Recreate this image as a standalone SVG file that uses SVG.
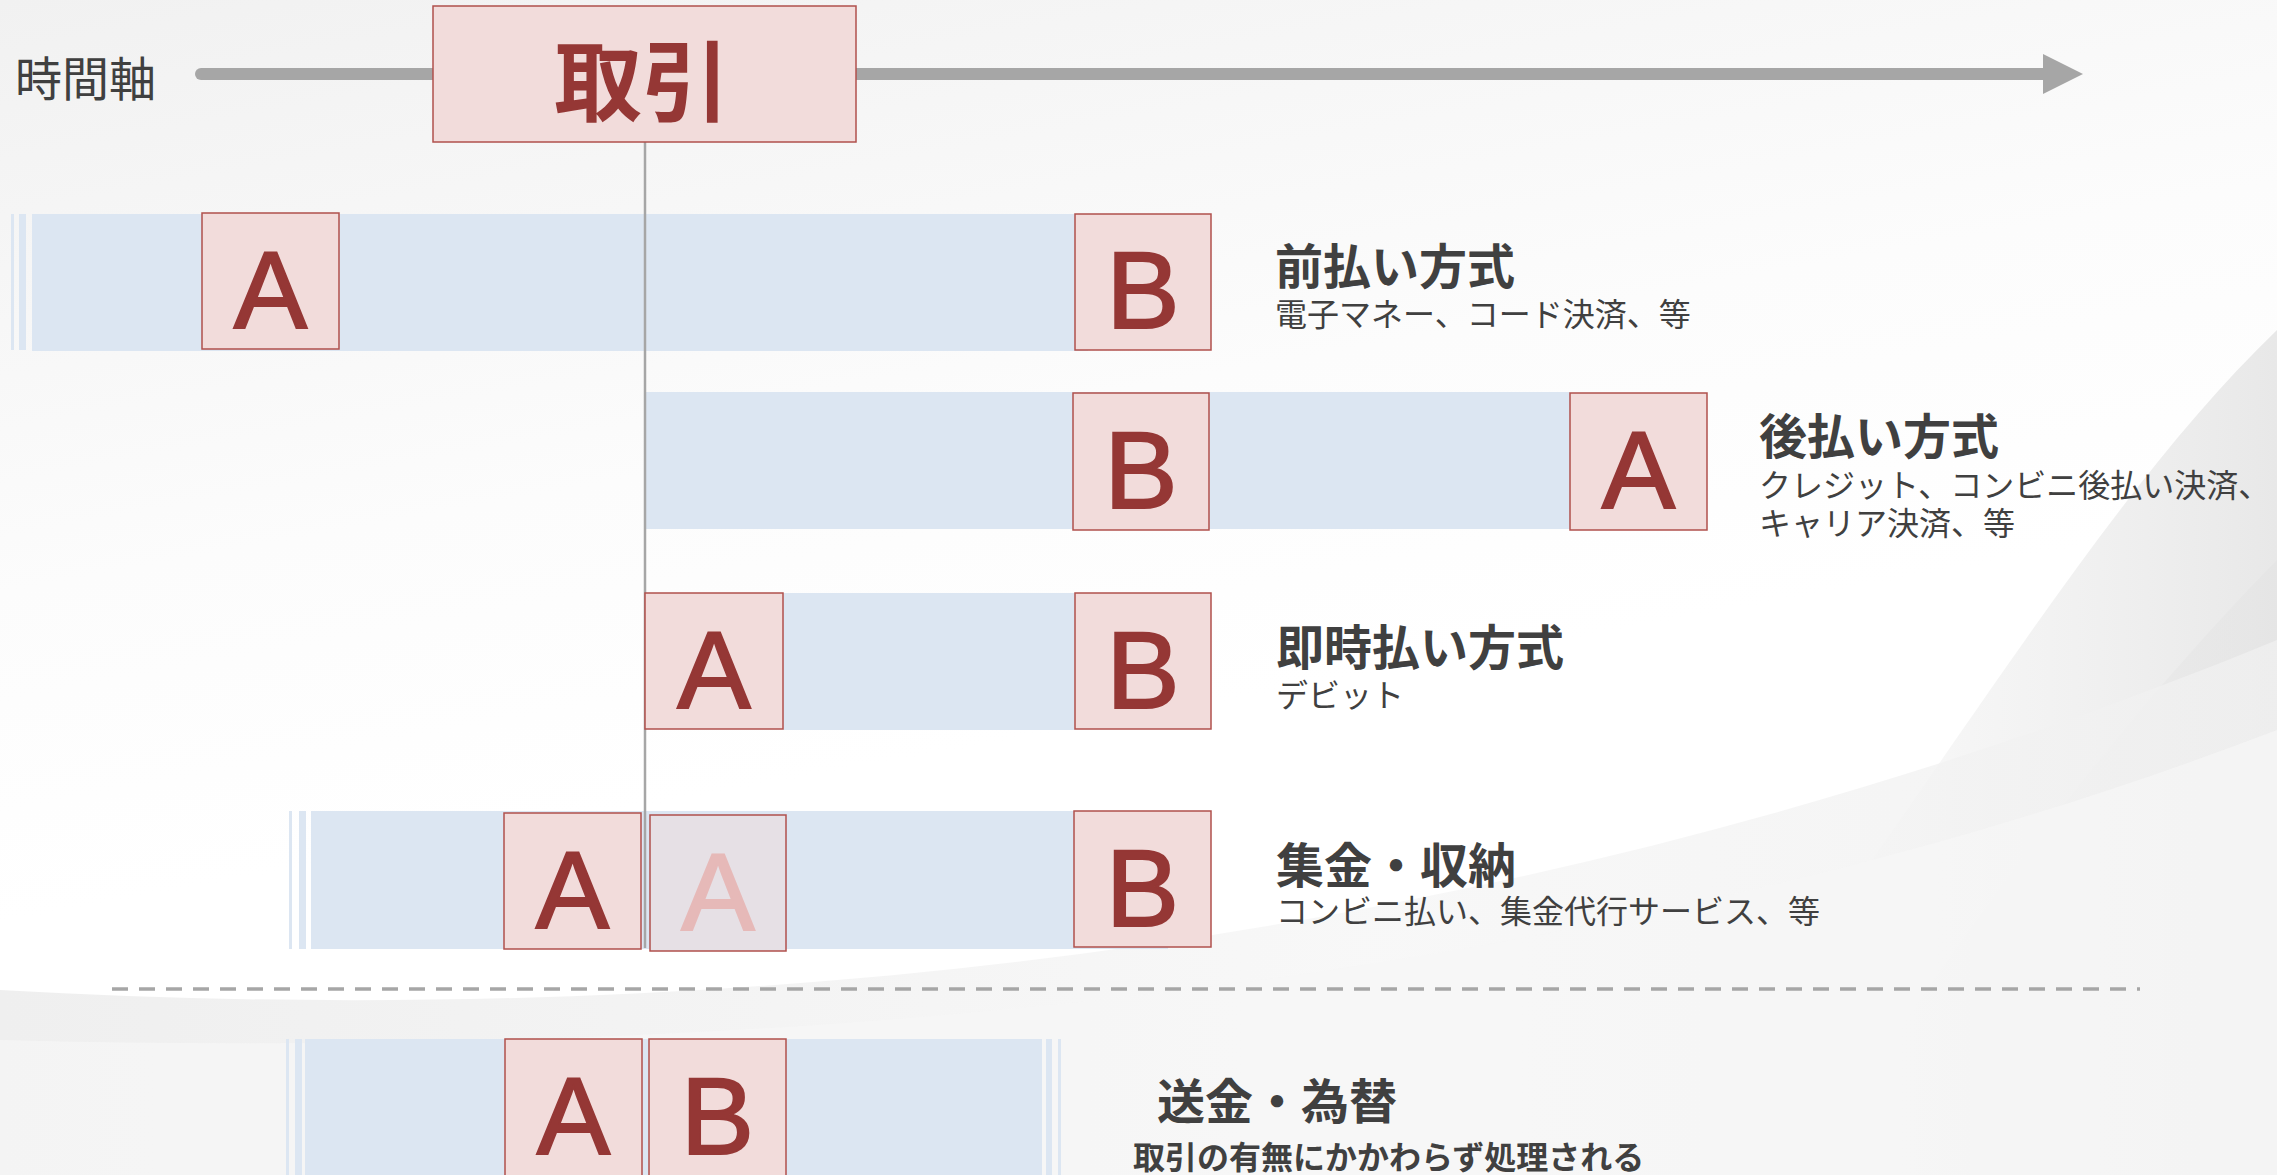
<svg xmlns="http://www.w3.org/2000/svg" width="2277" height="1175" viewBox="0 0 2277 1175">
<defs>
<linearGradient id="bg" x1="0" y1="0" x2="0.35" y2="1">
<stop offset="0" stop-color="#f1f1f1"/>
<stop offset="0.45" stop-color="#fcfcfc"/>
<stop offset="0.7" stop-color="#ffffff"/>
<stop offset="1" stop-color="#ffffff"/>
</linearGradient>
<linearGradient id="rsw" x1="0" y1="0" x2="1" y2="0">
<stop offset="0" stop-color="#ffffff" stop-opacity="0"/>
<stop offset="0.5" stop-color="#f3f3f3" stop-opacity="0.8"/>
<stop offset="1" stop-color="#e8e8e8" stop-opacity="1"/>
</linearGradient>
<linearGradient id="rsw2" x1="0" y1="0" x2="1" y2="0">
<stop offset="0" stop-color="#ececec" stop-opacity="0"/>
<stop offset="1" stop-color="#e4e4e4" stop-opacity="0.7"/>
</linearGradient>
<linearGradient id="bsw" x1="0" y1="0" x2="1" y2="0">
<stop offset="0" stop-color="#ebebeb"/>
<stop offset="0.6" stop-color="#f6f6f6"/>
<stop offset="1" stop-color="#f0f0f0"/>
</linearGradient>
<style>
.band{fill:#dce6f2}
.stripe{fill:#dce6f2}
.box{fill:#f2dcdb;stroke:#b0504c;stroke-width:1.5}
.boxf{fill:#e6e0e5;stroke:#b0504c;stroke-width:1.5}
.let{font-family:"Liberation Sans",Arial,sans-serif;font-size:110px;fill:#953735;stroke:#953735;stroke-width:2;text-anchor:middle}
.letf{fill:#e6b9b8;stroke:#e6b9b8}
.h{font-family:"Noto Sans CJK JP",sans-serif;font-weight:bold;font-size:48px;fill:#404040;dominant-baseline:central}
.s{font-family:"Noto Sans CJK JP",sans-serif;font-size:32px;fill:#404040;dominant-baseline:central}
</style>
</defs>
<rect width="2277" height="1175" fill="url(#bg)"/>
<g id="background">
<path d="M2277,330 C2080,520 1920,820 1640,1175 L2277,1175 Z" fill="url(#rsw)"/>
<path d="M2277,560 C2100,740 1950,950 1800,1175 L2277,1175 Z" fill="url(#rsw2)"/>
<path d="M0,990 C700,1030 1500,960 2277,640 L2277,1175 L0,1175 Z" fill="url(#bsw)" opacity="0.8"/>
<path d="M0,1040 C800,1060 1600,990 2277,730 L2277,1175 L0,1175 Z" fill="#f7f7f7" opacity="0.7"/>
</g>
<g id="connectors">
<line x1="201" y1="74" x2="2045" y2="74" stroke="#a6a6a6" stroke-width="12" stroke-linecap="round"/>
<polygon points="2043,54 2083,74 2043,94" fill="#a6a6a6"/>
<line x1="112" y1="989" x2="2140" y2="989" stroke="#a6a6a6" stroke-width="3.5" stroke-dasharray="16 11"/>
</g>
<text id="axis-label" x="15" y="75" font-family="Noto Sans CJK JP,sans-serif" font-size="47" fill="#404040" dominant-baseline="central">時間軸</text>
<g id="row1">
<rect class="stripe" x="11" y="214" width="3" height="136"/>
<rect class="stripe" x="19" y="214" width="7" height="136"/>
<rect class="band" x="32" y="214" width="1056" height="137"/>
</g>
<g id="row2">
<rect class="band" x="646" y="392" width="924" height="137"/>
</g>
<g id="row3">
<rect class="band" x="783" y="593" width="292" height="137"/>
</g>
<g id="row4">
<rect class="stripe" x="289" y="811" width="3" height="138"/>
<rect class="stripe" x="299" y="811" width="7" height="138"/>
<rect class="band" x="311" y="811" width="857" height="138"/>
</g>
<g id="row5">
<rect class="stripe" x="286" y="1039" width="3" height="140"/>
<rect class="stripe" x="295" y="1039" width="7" height="140"/>
<rect class="band" x="305" y="1039" width="737" height="140"/>
<rect class="stripe" x="1046" y="1039" width="6" height="140"/>
<rect class="stripe" x="1058" y="1039" width="3" height="140"/>
</g>
<g id="time-marker">
<line x1="645" y1="142" x2="645" y2="948" stroke="#a6a6a6" stroke-width="2.5"/>
</g>
<g id="torihiki">
<rect x="433" y="6" width="423" height="136" fill="#f2dcdb" stroke="#b0504c" stroke-width="1.5"/>
<text x="642" y="75" font-family="Noto Sans CJK JP,sans-serif" font-weight="bold" font-size="88" fill="#953735" text-anchor="middle" dominant-baseline="central">取引</text>
</g>
<g id="r1-A"><rect class="box" x="202" y="213" width="137" height="136"/><text class="let" x="270.5" y="328">A</text></g>
<g id="r1-B"><rect class="box" x="1075" y="214" width="136" height="136"/><text class="let" x="1143" y="328">B</text></g>
<g id="r1-label"><text class="h" x="1275" y="263">前払い方式</text><text class="s" x="1275" y="312">電子マネー、コード決済、等</text></g>
<g id="r2-B"><rect class="box" x="1073" y="393" width="136" height="137"/><text class="let" x="1141" y="508">B</text></g>
<g id="r2-A"><rect class="box" x="1570" y="393" width="137" height="137"/><text class="let" x="1638.5" y="508">A</text></g>
<g id="r2-label"><text class="h" x="1759" y="433">後払い方式</text><text class="s" x="1759" y="483">クレジット、コンビニ後払い決済、</text><text class="s" x="1759" y="521">キャリア決済、等</text></g>
<g id="r3-A"><rect class="box" x="645" y="593" width="138" height="136"/><text class="let" x="714" y="708">A</text></g>
<g id="r3-B"><rect class="box" x="1075" y="593" width="136" height="136"/><text class="let" x="1143" y="708">B</text></g>
<g id="r3-label"><text class="h" x="1276" y="644">即時払い方式</text><text class="s" x="1276" y="693">デビット</text></g>
<g id="r4-A"><rect class="box" x="504" y="813" width="137" height="136"/><text class="let" x="572.5" y="928">A</text></g>
<g id="r4-A2"><rect class="boxf" x="650" y="815" width="136" height="136"/><text class="let letf" x="718" y="930">A</text></g>
<g id="r4-B"><rect class="box" x="1074" y="811" width="137" height="136"/><text class="let" x="1142.5" y="926">B</text></g>
<g id="r4-label"><text class="h" x="1276" y="862">集金・収納</text><text class="s" x="1276" y="909">コンビニ払い、集金代行サービス、等</text></g>
<g id="r5-A"><rect class="box" x="505" y="1039" width="137" height="140"/><text class="let" x="573.5" y="1154">A</text></g>
<g id="r5-B"><rect class="box" x="649" y="1039" width="137" height="140"/><text class="let" x="717.5" y="1154">B</text></g>
<g id="r5-label"><text class="h" x="1157" y="1098">送金・為替</text><text class="s" x="1133" y="1155" font-weight="bold">取引の有無にかかわらず処理される</text></g>
</svg>
